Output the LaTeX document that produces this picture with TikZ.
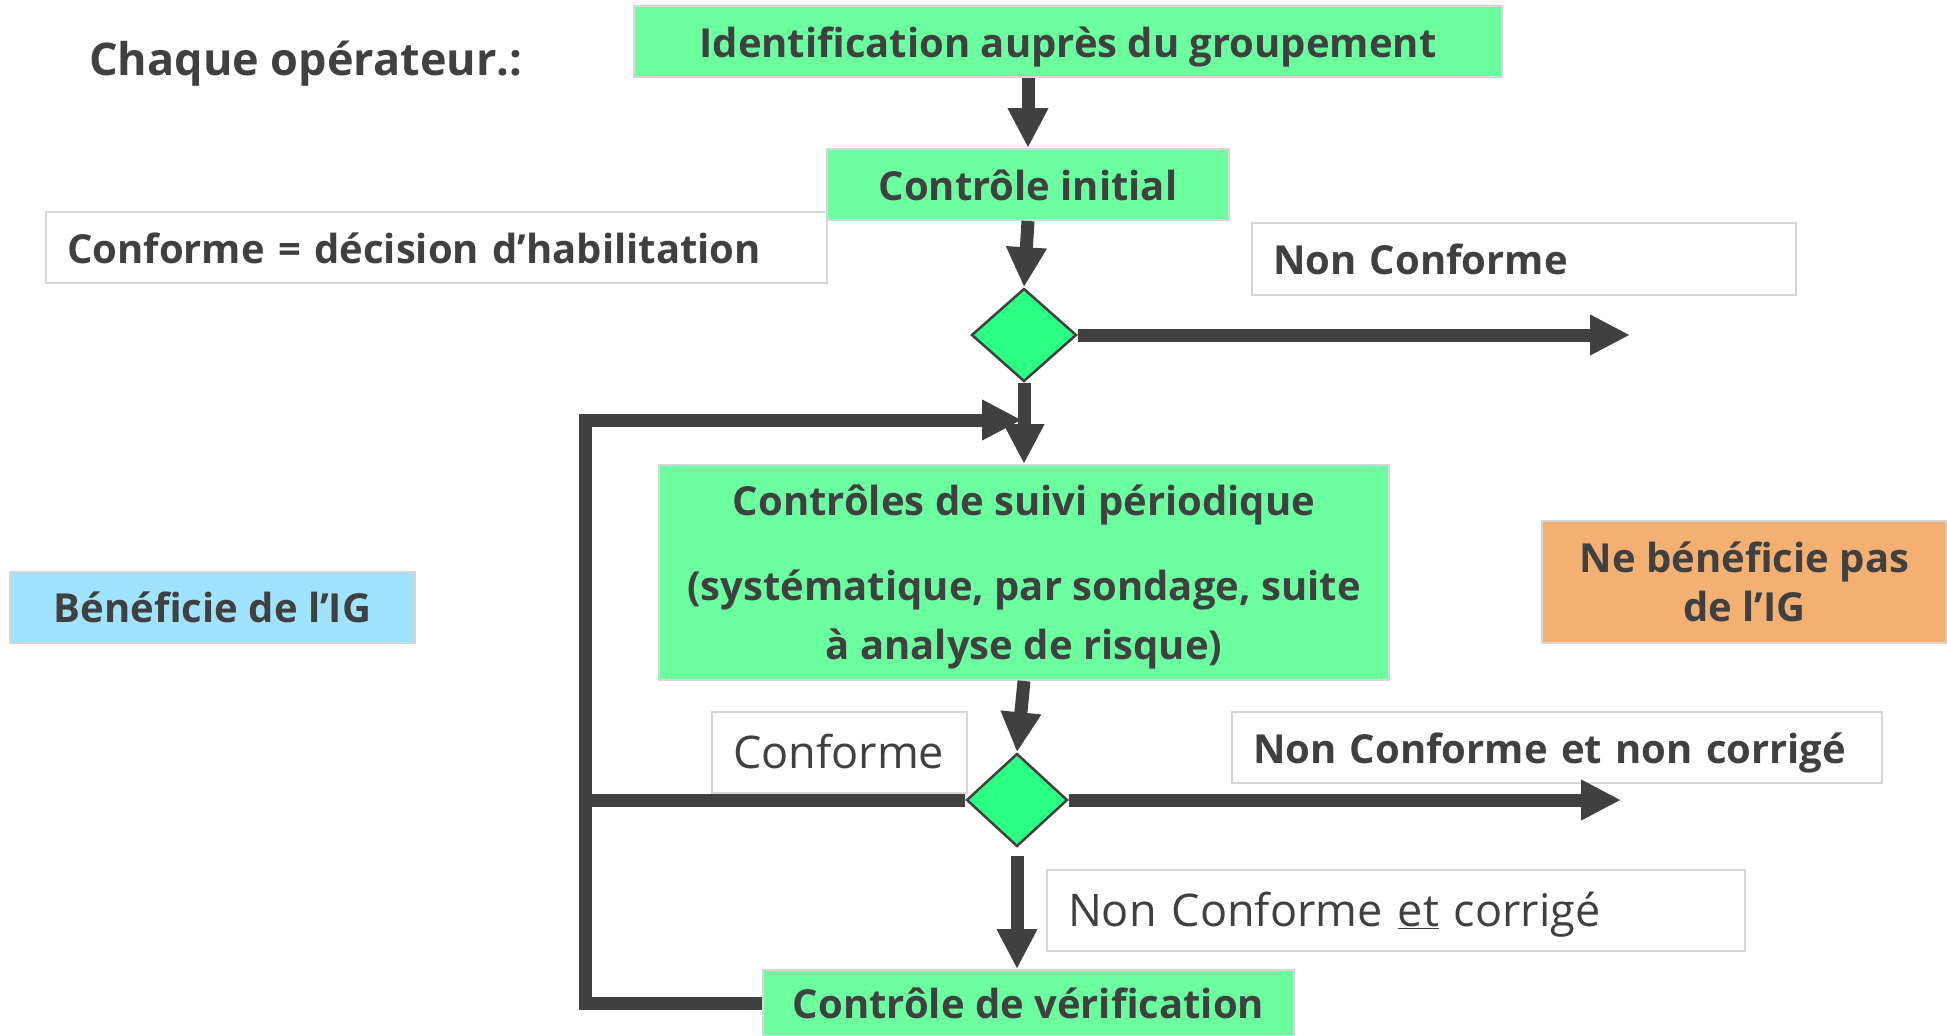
\documentclass[tikz,border=0pt]{standalone}
\usepackage{fontspec}
\setmainfont{Open Sans}
\usetikzlibrary{shapes.geometric,arrows.meta}
\definecolor{ink}{HTML}{404040}
\definecolor{mint}{HTML}{6BFFA0}
\definecolor{jade}{HTML}{2BFF84}
\definecolor{sky}{HTML}{9FE3FF}
\definecolor{peach}{HTML}{F4AF72}
\definecolor{rim}{HTML}{D6D6D6}
\begin{document}
\begin{tikzpicture}
  [x=1pt,y=-1pt,
   every node/.style={text=ink,font=\fontsize{40}{49}\selectfont\bfseries},
   step box/.style={rectangle,draw=rim,line width=2pt,fill=mint,inner sep=0pt,text height=31pt,text depth=0pt},
   tag box/.style={rectangle,draw=rim,line width=2pt,fill=white,inner xsep=21pt,inner ysep=0pt,align=left,text height=31pt,text depth=0pt},
   choice/.style={diamond,draw=ink,line width=2.5pt,fill=jade,inner sep=0pt},
   flow/.style={draw=ink,line width=13pt},
   arrow/.style={flow,-{Triangle[width=38pt,length=40pt]}}]
\useasboundingbox (0,0) rectangle (1947,1036); % page size
\node at (89,64) (title) [anchor=west,inner sep=0pt,font=\fontsize{45}{50}\selectfont\bfseries] {Chaque opérateur.:};
\node at (1068,41.5) (ident) [step box, minimum width=868pt, minimum height=71pt] {Identification auprès du groupement};
\node at (1028,184.5) (ci) [step box, minimum width=402pt, minimum height=71pt] {Contrôle initial};
\node at (436.5,247.5) (habil) [tag box, text width=739pt, minimum height=71pt] {Conforme = décision d’habilitation};
\node at (1524,259) (nc) [tag box, text width=502pt, minimum height=72pt] {Non Conforme};
\node at (1024,335) (d1) [choice, minimum width=105pt, minimum height=93pt] {};
\node at (1024,572.5) (suivi) [step box, text height=, text depth=, minimum width=730pt, minimum height=215pt, align=center,
  font=\fontsize{40}{59}\selectfont\bfseries] {\rule{0pt}{40pt}Contrôles de suivi périodique\\[26pt]
  (systématique, par sondage, suite\\ à analyse de risque)};
\node at (212.5,607.5) (ig) [rectangle, draw=rim, line width=2pt, fill=sky, minimum width=405pt, minimum height=71pt] {Bénéficie de l’IG};
\node at (1744.5,582) (noig) [rectangle, draw=rim, line width=2pt, fill=peach, minimum width=405pt, minimum height=122pt, align=center] {Ne bénéficie pas\\ de l’IG};
\node at (839.5,752.5) (conf) [tag box, text width=213pt, minimum height=81pt, font=\fontsize{45}{50}\selectfont] {Conforme};
\node at (1557,747.5) (ncnc) [tag box, text width=608pt, minimum height=71pt] {Non Conforme et non corrigé};
\node at (1017,800) (d2) [choice, minimum width=101pt, minimum height=93pt] {};
\node at (1396,910.5) (ncc) [tag box, text width=656pt, minimum height=81pt, font=\fontsize{45}{50}\selectfont] {Non Conforme \underline{et} corrigé};
\node at (1028.5,1003) (verif) [step box, minimum width=531pt, minimum height=66pt] {Contrôle de vérification};
\coordinate (out1) at (1630,335);
\coordinate (out2) at (1621,800);
\coordinate (back) at (585,420);
\coordinate (join) at (1022,420);
%
\draw [arrow] (ident.south -| ci.north) -- (ci.north);
\draw [arrow] (ci.south) -- (d1.north);
\draw [arrow] (d1.east) -- (out1);
\draw [arrow] (verif.west) -| (back) -- (join);
\draw [arrow] (d1.south) -- (suivi.north);
\draw [arrow] (suivi.south) -- (d2.north);
\draw [arrow] (d2.east) -- (out2);
\draw [flow] (d2.west) -- (d2.west -| back);
\draw [arrow] ([yshift=-8pt]d2.south) -- (d2.south |- verif.north);
\end{tikzpicture}
\end{document}
